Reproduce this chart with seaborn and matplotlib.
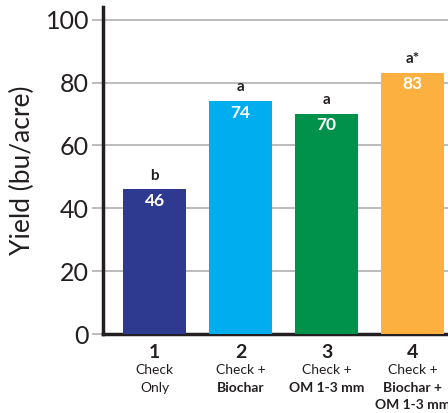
import pandas as pd
import seaborn as sns
import matplotlib.pyplot as plt
import matplotlib.transforms as mtransforms

# data
treatments = ["1", "2", "3", "4"]
yields = [46, 74, 70, 83]
letters = ["b", "a", "a", "a*"]
line1 = ["Check", "Check +", "Check +", "Check +"]
line2 = ["Only", "Biochar", "OM 1-3 mm", "Biochar +"]
line3 = ["", "", "", "OM 1-3 mm"]
line2_bold = [False, True, True, True]
colors = ["#2E3A8F", "#00AEEF", "#00924A", "#FBB040"]

df = pd.DataFrame({"treatment": treatments, "yield": yields})

sns.set_style("white")
plt.rcParams['font.family'] = ['Lato', 'DejaVu Sans']

fig = plt.figure(figsize=(4.48, 4.13), dpi=100)
ax = fig.add_axes([0.23, 0.191, 0.77, 0.792])
sns.barplot(data=df, x="treatment", y="yield", hue="treatment", palette=colors,
            width=0.73, saturation=1, legend=False, ax=ax, zorder=3, linewidth=0)

ax.set_ylim(0, 104)
ax.set_xlim(-0.6, 3.41)
ax.set_yticks([0, 20, 40, 60, 80, 100])
ax.yaxis.grid(True, color="#b0b0b0", linewidth=1.2, zorder=0)
ax.tick_params(axis="y", length=8, width=1.2, color="#b0b0b0", labelsize=18,
               labelcolor="#231f20", pad=2, left=True)
ax.tick_params(axis="x", length=0, labelbottom=False)
ax.set_ylabel("Yield (bu/acre)", fontsize=19, labelpad=8, color="#231f20")
ax.set_xlabel("")
for s in ["top", "right"]:
    ax.spines[s].set_visible(False)
for s in ["left", "bottom"]:
    ax.spines[s].set_color("#231f20")
    ax.spines[s].set_linewidth(2.5)

# value labels and significance letters
for i, v in enumerate(yields):
    ax.text(i, v - 1.0, str(v), ha="center", va="top", color="white",
            fontsize=12.5, fontweight="bold", zorder=5)
    ax.text(i, v + 2.2, letters[i], ha="center", va="bottom", color="#231f20",
            fontsize=11, fontweight="bold", zorder=5)

# custom category labels under the axis (the last one runs off the right edge, as in the original)
trans = mtransforms.blended_transform_factory(ax.transData, fig.transFigure)
for i in range(len(treatments)):
    ax.text(i, 1 - 352 / 413, treatments[i], transform=trans, ha="center", va="center",
            fontsize=14, fontweight="bold", color="#231f20", clip_on=False)
    ax.text(i, 1 - 370 / 413, line1[i], transform=trans, ha="center", va="center",
            fontsize=10, color="#231f20", clip_on=False)
    ax.text(i, 1 - 388 / 413, line2[i], transform=trans, ha="center", va="center",
            fontsize=10, fontweight="bold" if line2_bold[i] else "normal",
            color="#231f20", clip_on=False)
    if line3[i]:
        ax.text(i, 1 - 405 / 413, line3[i], transform=trans, ha="center", va="center",
                fontsize=10, fontweight="bold", color="#231f20", clip_on=False)

fig.savefig("out.png", dpi=100)
